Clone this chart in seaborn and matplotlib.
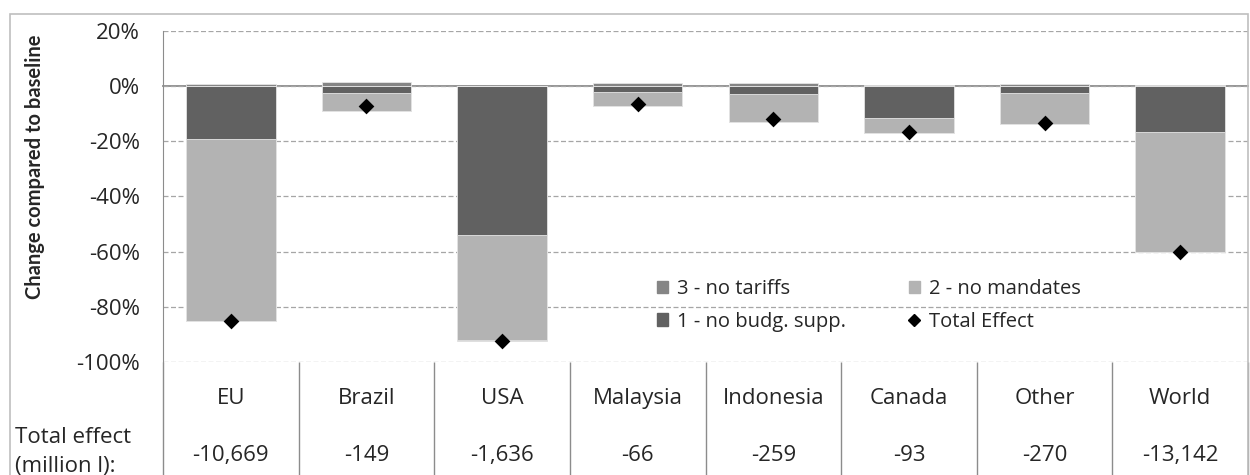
import matplotlib
matplotlib.use("Agg")
import matplotlib.pyplot as plt
import seaborn as sns
import numpy as np
from matplotlib.patches import Patch, Rectangle
from matplotlib.lines import Line2D
from matplotlib.ticker import FuncFormatter

# values (% change compared to baseline)
regions = ["EU", "Brazil", "USA", "Malaysia", "Indonesia", "Canada", "Other", "World"]
no_budget_support = [-19.2, -2.4, -54.1, -2.1, -3.0, -11.4, -2.5, -16.6]
no_mandates = [-66.1, -6.7, -37.9, -5.2, -9.9, -5.6, -11.3, -43.7]
no_tariffs = [0.7, 1.6, -0.3, 1.1, 1.1, 0.6, 0.7, 0.6]
total_effect = [-85.3, -7.3, -92.4, -6.5, -12.0, -16.7, -13.4, -60.0]
total_volume = [-10669, -149, -1636, -66, -259, -93, -270, -13142]  # million l

DARK = "#616161"
LIGHT = "#b3b3b3"
MID = "#858585"
GRID = "#a6a6a6"
AXIS = "#8c8c8c"

sns.set_style("white")
plt.rcParams["font.family"] = ["Open Sans", "DejaVu Sans"]
FS = 16

budget = np.array(no_budget_support)
mandates = np.array(no_mandates)
tariffs = np.array(no_tariffs)

fig = plt.figure(figsize=(12.5, 4.75), dpi=100)
ax = fig.add_axes([163 / 1250, 1 - 362 / 475, (1248 - 163) / 1250, 331 / 475])

bar_kw = dict(x=regions, order=regions, width=0.66, saturation=1, errorbar=None,
              edgecolor="#e6e6e6", linewidth=0.6, ax=ax)
# stacked layers, drawn from the outermost extent inwards
sns.barplot(y=budget + mandates + np.minimum(tariffs, 0), color=MID, **bar_kw)
sns.barplot(y=budget + mandates, color=LIGHT, **bar_kw)
sns.barplot(y=budget, color=DARK, **bar_kw)
sns.barplot(y=np.maximum(tariffs, 0), color=MID, **bar_kw)

sns.stripplot(x=regions, y=total_effect, order=regions, jitter=False, marker="D",
              color="black", size=8, ax=ax, zorder=5)

ax.set_xlim(-0.5, len(regions) - 0.5)
ax.set_ylim(-100, 20)
ax.set_yticks(range(-100, 21, 20))
ax.yaxis.set_major_formatter(FuncFormatter(lambda v, p: f"{v:.0f}%"))
ax.yaxis.grid(True, linestyle=(0, (4, 2)), color=GRID, linewidth=0.9)
ax.set_axisbelow(True)

ax.spines["top"].set_visible(False)
ax.spines["right"].set_visible(False)
ax.spines["left"].set_color(AXIS)
ax.spines["bottom"].set_position(("data", 0))
ax.spines["bottom"].set_color(AXIS)
ax.spines["bottom"].set_linewidth(1.3)
ax.spines["bottom"].set_zorder(0.5)

bounds = np.arange(len(regions) + 1) - 0.5
ax.set_xticks(bounds)
ax.set_xticklabels([])
ax.tick_params(axis="x", direction="out", length=6.5, color=AXIS, width=1)
ax.tick_params(axis="y", length=5.8, color=AXIS, labelsize=FS, pad=11)
ax.set_xlabel("")
ax.set_ylabel("Change compared to baseline", fontsize=14.5, fontweight="bold",
              family=["Lato", "DejaVu Sans"])
ax.yaxis.set_label_coords(-0.109, 0.59)

# data table below the plot
xt = ax.get_xaxis_transform()
ax.vlines(bounds, -0.4, 0, transform=xt, colors=AXIS, linewidth=1, clip_on=False)
for i, (name, vol) in enumerate(zip(regions, total_volume)):
    ax.text(i, -0.109, name, transform=xt, ha="center", va="center", fontsize=FS)
    ax.text(i, -0.281, f"{vol:,}", transform=xt, ha="center", va="center", fontsize=FS)
fig.text(15 / 1250, 1 - 452 / 475, "Total effect\n(million l):", ha="left",
         va="center", fontsize=FS, linespacing=1.5)

handles = [
    Patch(color=MID, label="3 - no tariffs"),
    Patch(color=DARK, label="1 - no budg. supp."),
    Patch(color=LIGHT, label="2 - no mandates"),
    Line2D([], [], marker="D", color="black", linestyle="none", markersize=6,
           label="Total Effect"),
]
ax.legend(handles=handles, ncol=2, loc="center left", frameon=False,
          bbox_to_anchor=((657 - 163) / 1085, 0.171), borderaxespad=0, borderpad=0,
          fontsize=14.5, handlelength=0.55, handleheight=0.55, handletextpad=0.45,
          columnspacing=3.1, labelspacing=0.62)

fig.add_artist(Rectangle((10 / 1250, -0.1), 1238 / 1250, 1.1 - 14 / 475,
                         transform=fig.transFigure, fill=False,
                         edgecolor="#bfbfbf", linewidth=1.2))

fig.savefig("out.png", dpi=100)
